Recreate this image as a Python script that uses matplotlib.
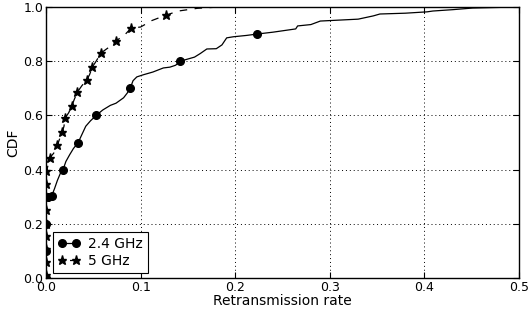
import matplotlib
matplotlib.use("Agg")
import matplotlib.pyplot as plt
from matplotlib.lines import Line2D

# 2.4 GHz CDF curve
x24 = [0.0, 0.0, 0.0, 0.0, 0.002, 0.006, 0.009, 0.012, 0.015, 0.018, 0.021, 0.025,
       0.029, 0.034, 0.038, 0.042, 0.047, 0.053, 0.060, 0.068, 0.074, 0.078, 0.082,
       0.086, 0.089, 0.092, 0.096, 0.103, 0.113, 0.124, 0.131, 0.137, 0.142, 0.150,
       0.157, 0.163, 0.170, 0.180, 0.186, 0.191, 0.198, 0.212, 0.223, 0.240, 0.264,
       0.266, 0.280, 0.290, 0.330, 0.346, 0.353, 0.380, 0.403, 0.409, 0.430, 0.451, 0.500]
y24 = [0.0, 0.1, 0.2, 0.29, 0.30, 0.303, 0.33, 0.36, 0.385, 0.40, 0.43, 0.455,
       0.478, 0.50, 0.53, 0.56, 0.58, 0.60, 0.62, 0.637, 0.645, 0.655, 0.665,
       0.683, 0.70, 0.728, 0.742, 0.750, 0.760, 0.775, 0.778, 0.785, 0.80, 0.808,
       0.815, 0.828, 0.845, 0.846, 0.86, 0.886, 0.890, 0.895, 0.90, 0.907, 0.919,
       0.930, 0.935, 0.948, 0.955, 0.967, 0.974, 0.977, 0.982, 0.985, 0.99, 0.996, 1.0]
mx24 = [0.0, 0.0, 0.0, 0.002, 0.006, 0.018, 0.034, 0.053, 0.089, 0.142, 0.223]
my24 = [0.0, 0.1, 0.2, 0.30, 0.303, 0.40, 0.50, 0.60, 0.70, 0.80, 0.90]

# 5 GHz CDF curve
x5 = [0.0, 0.0, 0.001, 0.004, 0.008, 0.012, 0.014, 0.017, 0.019, 0.020, 0.024,
      0.027, 0.030, 0.033, 0.038, 0.043, 0.046, 0.049, 0.053, 0.058, 0.066, 0.074,
      0.080, 0.084, 0.090, 0.100, 0.112, 0.127, 0.140, 0.160, 0.184, 0.500]
y5 = [0.0, 0.38, 0.40, 0.444, 0.46, 0.489, 0.51, 0.537, 0.56, 0.589, 0.61,
      0.633, 0.66, 0.685, 0.71, 0.73, 0.75, 0.778, 0.80, 0.830, 0.85, 0.874,
      0.89, 0.90, 0.922, 0.926, 0.950, 0.970, 0.985, 0.995, 1.0, 1.0]
mx5 = [0.0, 0.0, 0.0, 0.0, 0.0, 0.0, 0.0, 0.0, 0.0, 0.004, 0.012, 0.017, 0.020,
       0.027, 0.033, 0.043, 0.049, 0.058, 0.074, 0.090, 0.127]
my5 = [0.01, 0.06, 0.107, 0.155, 0.20, 0.25, 0.30, 0.348, 0.396, 0.444, 0.489,
       0.537, 0.589, 0.633, 0.685, 0.730, 0.778, 0.830, 0.874, 0.922, 0.970]

xticks = [0.0, 0.1, 0.2, 0.3, 0.4, 0.5]
yticks = [0.0, 0.2, 0.4, 0.6, 0.8, 1.0]

fig = plt.figure(figsize=(5.29, 3.16), dpi=100)
ax = fig.add_axes([0.087, 0.12, 0.894, 0.858])

ax.plot(x24, y24, color="black", lw=0.9, linestyle="-")
ax.plot(mx24, my24, color="black", linestyle="none", marker="o", markersize=5.5)
ax.plot(x5, y5, color="black", lw=0.9, linestyle=(0, (6, 6)))
ax.plot(mx5, my5, color="black", linestyle="none", marker="*", markersize=6.5)

ax.set_xlim(0, 0.5)
ax.set_ylim(0, 1.0)
ax.set_xticks(xticks)
ax.set_yticks(yticks)
ax.set_xticklabels([f"{t:.1f}" for t in xticks])
ax.set_yticklabels([f"{t:.1f}" for t in yticks])
ax.tick_params(direction="in", top=True, right=True, labelsize=9, length=4, pad=2)
ax.grid(True, color="black", linestyle=(0, (1, 3)), linewidth=0.7)
ax.set_xlabel("Retransmission rate", fontsize=10, labelpad=0)
ax.set_ylabel("CDF", fontsize=10, labelpad=2)
for s in ax.spines.values():
    s.set_linewidth(1.0)

handles = [
    Line2D([], [], color="black", lw=0.9, linestyle="-", marker="o", markersize=5.5),
    Line2D([], [], color="black", lw=0.9, linestyle=(0, (3, 3)), marker="*", markersize=6.5),
]
leg = ax.legend(handles, ["2.4 GHz", "5 GHz"], loc="lower left", fontsize=10,
                frameon=True, fancybox=False, framealpha=1, edgecolor="black",
                handlelength=1.6, handletextpad=0.6, borderpad=0.35, labelspacing=0.25,
                borderaxespad=0.0, bbox_to_anchor=(0.014, 0.018), numpoints=2)
leg.get_frame().set_linewidth(0.8)

fig.savefig("out.png", dpi=100)
